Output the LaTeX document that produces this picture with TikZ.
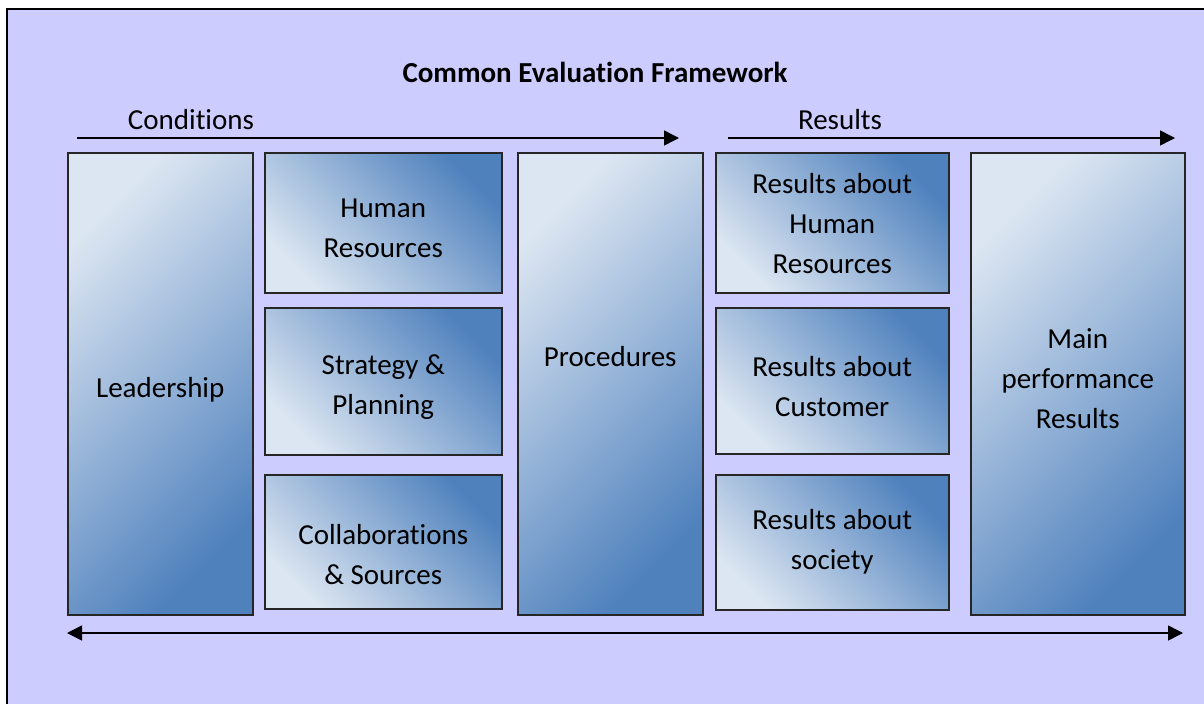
\documentclass[tikz,border=0pt]{standalone}
\usepackage{fontspec}
\setmainfont{Carlito}[Ligatures={NoCommon,NoContextual}, RawFeature={-liga;-clig;-dlig}]
\usetikzlibrary{arrows.meta}
\definecolor{bgviolet}{HTML}{CCCCFF}
\definecolor{boxlight}{HTML}{DCE6F2}
\definecolor{boxdark}{HTML}{4F81BD}
\begin{document}
\begin{tikzpicture}[x=1pt,y=-1pt,
  panel/.style={draw=black!85, line width=1.5pt, inner sep=0pt, anchor=north west, shading=axis},
  widebox/.style={panel, top color=boxdark, bottom color=boxlight, shading angle=-45},
  tallbox/.style={panel, top color=boxdark, bottom color=boxlight, shading angle=-135},
  lbl/.style={font=\fontsize{29}{40}\selectfont, align=center, inner sep=0pt, text=black},
  arr/.style={line width=1.5pt, -{Triangle[length=15pt,width=15pt]}},
  twoarr/.style={line width=1.5pt, {Triangle[length=15pt,width=15pt]}-{Triangle[length=15pt,width=15pt]}}
]
% page and framed background
\useasboundingbox (0,0) rectangle (1204,704);
\fill[white] (0,0) rectangle (1204,704);
\fill[bgviolet] (7,9) rectangle (1204,704);
\draw[line width=2pt, black] (7,704) -- (7,9) -- (1204,9);

% title and section headings
\node[lbl, font=\bfseries\fontsize{29}{40}\selectfont] (title) at (595,72) {Common Evaluation Framework};
\node[lbl] (condtxt) at (191,120) {Conditions};
\node[lbl] (restxt) at (840,120) {Results};

% section arrows
\coordinate (condS) at (77,138);
\coordinate (condE) at (679,138);
\coordinate (resS) at (728,138);
\coordinate (resE) at (1175,138);
\draw[arr] (condS) -- (condE);
\draw[arr] (resS) -- (resE);

% enablers
\node[tallbox, minimum width=185pt, minimum height=462pt] (lead) at (67,152) {};
\node[widebox, minimum width=237pt, minimum height=140pt] (hr) at (264,152) {};
\node[widebox, minimum width=237pt, minimum height=147pt] (strat) at (264,307) {};
\node[widebox, minimum width=237pt, minimum height=134pt] (collab) at (264,474) {};
\node[tallbox, minimum width=185pt, minimum height=462pt] (proc) at (517,152) {};

% results
\node[widebox, minimum width=233pt, minimum height=140pt] (rhr) at (715,152) {};
\node[widebox, minimum width=233pt, minimum height=146pt] (rcust) at (715,307) {};
\node[widebox, minimum width=233pt, minimum height=135pt] (rsoc) at (715,474) {};
\node[tallbox, minimum width=214pt, minimum height=462pt] (mainres) at (970,152) {};

% box labels
\node[lbl] (leadtxt) at (lead.center |- 0,390) {Leadership};
\node[lbl] (hrtxt) at (hr.center |- 0,228) {Human\\Resources};
\node[lbl] (strattxt) at (strat.center |- 0,387) {Strategy \&\\Planning};
\node[lbl] (collabtxt) at (collab.center |- 0,555) {Collaborations\\\& Sources};
\node[lbl] (proctxt) at (proc.center |- 0,357) {Procedures};
\node[lbl] (rhrtxt) at (rhr.center |- 0,224) {Results about\\Human\\Resources};
\node[lbl] (rcusttxt) at (rcust.center |- 0,387) {Results about\\Customer};
\node[lbl] (rsoctxt) at (rsoc.center |- 0,542) {Results about\\society};
\node[lbl] (maintxt) at (mainres.center |- 0,379) {Main\\performance\\Results};

% feedback arrow along the bottom
\coordinate (fbL) at (67,633);
\coordinate (fbR) at (1183,633);
\draw[twoarr] (fbL) -- (fbR);
\end{tikzpicture}
\end{document}
